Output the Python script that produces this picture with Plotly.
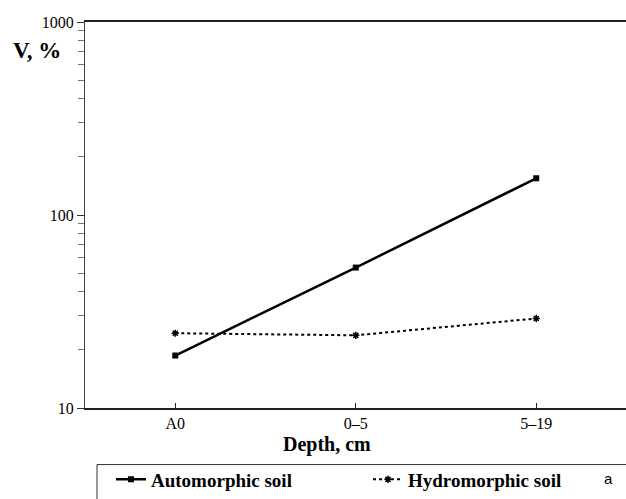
import plotly.graph_objects as go

categories = ["A0", "0–5", "5–19"]
automorphic = [18.7, 53.4, 155]
hydromorphic = [24.4, 23.8, 29.1]
y_ticks = [10, 100, 1000]
y_tick_labels = ["10", "100", "1000"]

SERIF = "Liberation Serif"

fig = go.Figure()
fig.add_trace(go.Scatter(
    x=categories, y=automorphic, name="<b>Automorphic soil</b>",
    mode="lines+markers",
    line=dict(color="black", width=2.5),
    marker=dict(symbol="square", size=6, color="black"),
    legend="legend",
))
fig.add_trace(go.Scatter(
    x=categories, y=hydromorphic, name="<b>Hydromorphic soil</b>",
    mode="lines+markers",
    line=dict(color="black", width=2, dash="dot"),
    marker=dict(symbol="asterisk-open", size=6, line=dict(color="black", width=1.5)),
    legend="legend2",
))

# The plot area runs past the right edge of the window, as in the reference.
W, H = 660, 499
L, T, R = 85, 22, 0
B = H - 411
pw = W - L - R
ph = H - T - B
cat_step = 180.5           # pixels between categories
x_right = -0.5 + pw / cat_step

def px_x(p):
    return (p - L) / pw

def px_y(p):
    return (H - B - p) / ph

fig.update_layout(
    width=W, height=H,
    margin=dict(l=L, r=R, t=T, b=B),
    paper_bgcolor="white", plot_bgcolor="white",
    font=dict(family=SERIF, color="black", size=16),
    xaxis=dict(
        type="category", range=[-0.5, x_right],
        showline=True, linecolor="#222", linewidth=1.5, mirror=True,
        ticks="inside", ticklen=5, tickcolor="#222", tickwidth=1,
        showgrid=False, zeroline=False,
        tickfont=dict(family=SERIF, size=16, color="black"),
    ),
    yaxis=dict(
        type="log", range=[1, 3],
        tickvals=y_ticks, ticktext=y_tick_labels,
        showline=True, linecolor="#444", linewidth=1, mirror=False,
        ticks="outside", ticklen=7, tickcolor="#333", tickwidth=1,
        minor=dict(ticks="outside", ticklen=6, tickcolor="#777", tickwidth=1,
                   dtick="D1", showgrid=False),
        showgrid=False, zeroline=False,
        tickfont=dict(family=SERIF, size=16, color="black"),
    ),
    showlegend=True,
    legend=dict(
        x=px_x(111), y=px_y(483), xanchor="left", yanchor="middle",
        orientation="h", bgcolor="rgba(0,0,0,0)", borderwidth=0,
        font=dict(family=SERIF, size=19, color="black"),
    ),
    legend2=dict(
        x=px_x(368), y=px_y(483), xanchor="left", yanchor="middle",
        orientation="h", bgcolor="rgba(0,0,0,0)", borderwidth=0,
        font=dict(family=SERIF, size=19, color="black"),
    ),
)

fig.add_shape(
    type="rect", xref="paper", yref="paper",
    x0=px_x(97), x1=px_x(700), y0=px_y(468), y1=px_y(520),
    line=dict(color="#333", width=1), fillcolor="rgba(0,0,0,0)",
)

fig.add_annotation(
    text="<b>V, %</b>", xref="paper", yref="paper",
    x=px_x(37), y=px_y(51), xanchor="center", yanchor="middle",
    showarrow=False, font=dict(family=SERIF, size=23, color="black"),
)
fig.add_annotation(
    text="<b>Depth, cm</b>", xref="paper", yref="paper",
    x=px_x(327), y=px_y(448), xanchor="center", yanchor="middle",
    showarrow=False, font=dict(family=SERIF, size=20, color="black"),
)
fig.add_annotation(
    text="a", xref="paper", yref="paper",
    x=px_x(608), y=px_y(482), xanchor="center", yanchor="middle",
    showarrow=False, font=dict(family="Liberation Sans", size=15, color="black"),
)

fig.write_html(
    "out.html",
    config={"displayModeBar": False},
    post_script="document.body.style.margin='0';document.body.style.overflow='hidden';",
)
